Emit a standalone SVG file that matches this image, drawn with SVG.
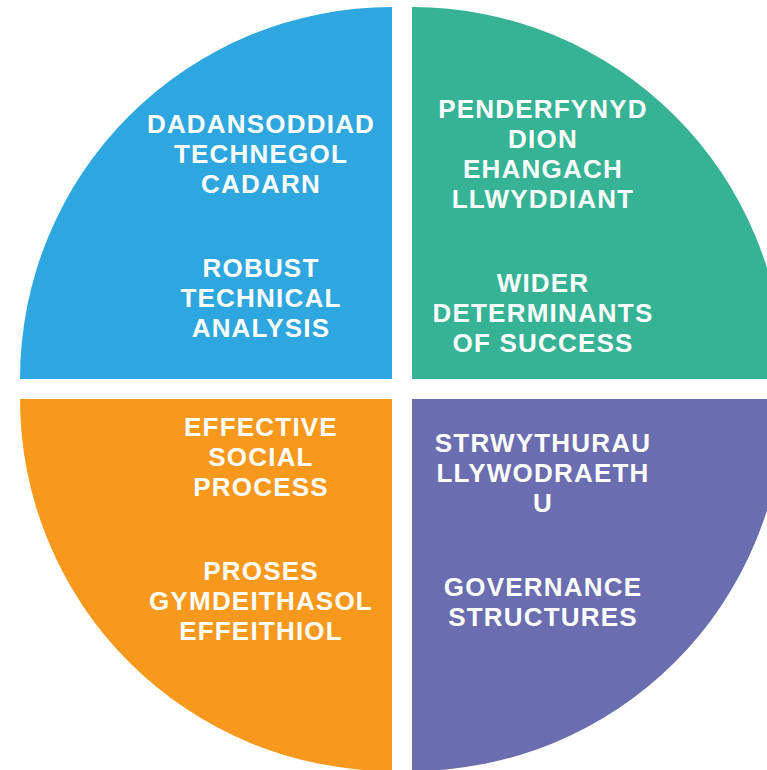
<svg xmlns="http://www.w3.org/2000/svg" width="767" height="770" viewBox="0 0 767 770">
<style>
.t{font-family:"Liberation Sans",Arial,sans-serif;font-weight:bold;font-size:26px;fill:#ffffff;text-anchor:middle;letter-spacing:1.2px}
</style>
<rect width="767" height="770" fill="#ffffff"/>
<g id="q-tl">
<path d="M392,379 L20,379 A372,372 0 0 1 392,7 Z" fill="#2EA7E0"/>
<text class="t" x="261" y="133">DADANSODDIAD</text>
<text class="t" x="261" y="163">TECHNEGOL</text>
<text class="t" x="261" y="193">CADARN</text>
<text class="t" x="261" y="277">ROBUST</text>
<text class="t" x="261" y="307">TECHNICAL</text>
<text class="t" x="261" y="337">ANALYSIS</text>
</g>
<g id="q-tr">
<path d="M412,379 L412,7 A372,372 0 0 1 784,379 Z" fill="#36B394"/>
<text class="t" x="543" y="118">PENDERFYNYD</text>
<text class="t" x="543" y="148">DION</text>
<text class="t" x="543" y="178">EHANGACH</text>
<text class="t" x="543" y="208">LLWYDDIANT</text>
<text class="t" x="543" y="292">WIDER</text>
<text class="t" x="543" y="322">DETERMINANTS</text>
<text class="t" x="543" y="352">OF SUCCESS</text>
</g>
<g id="q-bl">
<path d="M392,399 L392,771 A372,372 0 0 1 20,399 Z" fill="#F8991D"/>
<text class="t" x="261" y="436">EFFECTIVE</text>
<text class="t" x="261" y="466">SOCIAL</text>
<text class="t" x="261" y="496">PROCESS</text>
<text class="t" x="261" y="580">PROSES</text>
<text class="t" x="261" y="610">GYMDEITHASOL</text>
<text class="t" x="261" y="640">EFFEITHIOL</text>
</g>
<g id="q-br">
<path d="M412,399 L784,399 A372,372 0 0 1 412,771 Z" fill="#6A6DB0"/>
<text class="t" x="543" y="452">STRWYTHURAU</text>
<text class="t" x="543" y="482">LLYWODRAETH</text>
<text class="t" x="543" y="512">U</text>
<text class="t" x="543" y="596">GOVERNANCE</text>
<text class="t" x="543" y="626">STRUCTURES</text>
</g>
<g id="connectors"></g>
</svg>
